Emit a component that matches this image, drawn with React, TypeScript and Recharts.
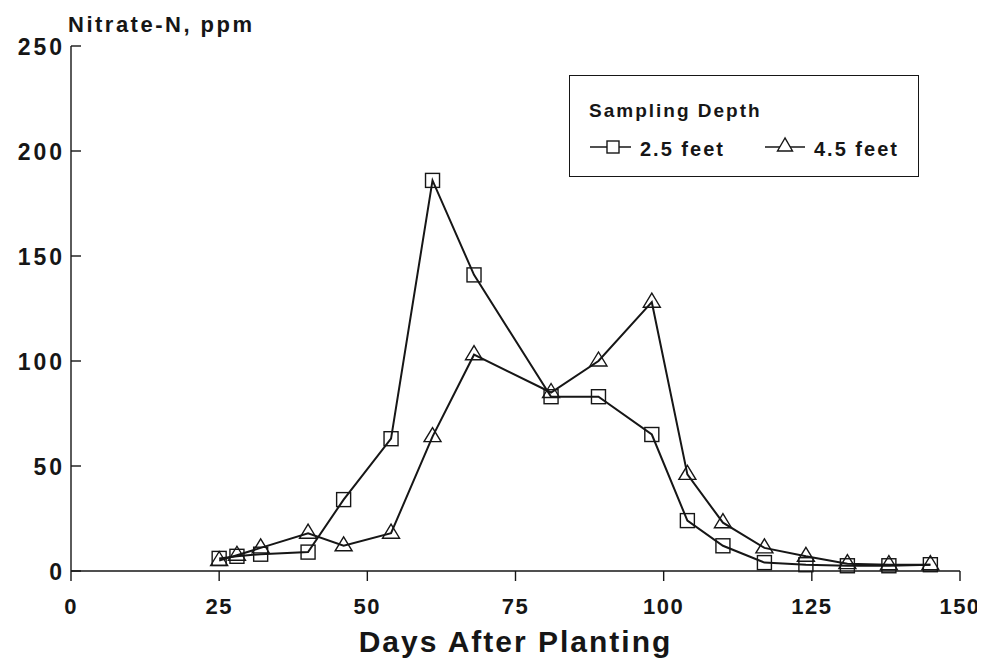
import React from "react";
import { LineChart, Line, XAxis, YAxis, Legend } from "recharts";

// Sampling days after planting
const days = [25, 28, 32, 40, 46, 54, 61, 68, 81, 89, 98, 104, 110, 117, 124, 131, 138, 145];
// Nitrate-N (ppm) at 2.5 feet depth
const depth25 = [6, 7, 8, 9, 34, 63, 186, 141, 83, 83, 65, 24, 12, 4, 3, 2.5, 2.5, 3];
// Nitrate-N (ppm) at 4.5 feet depth
const depth45 = [5, 7.5, 11, 18, 12, 18, 64, 103, 85, 100, 128, 46, 23, 11, 7, 3.5, 3, 3];

const xTicks = [0, 25, 50, 75, 100, 125, 150];
const yTicks = [0, 50, 100, 150, 200, 250];

const data = days.map((d, i) => ({ day: d, d25: depth25[i], d45: depth45[i] }));

const FONT = "'Liberation Sans', Arial, Helvetica, sans-serif";
const INK = "#161616";

const SquareDot = (props: any) => {
  const { cx, cy, index } = props;
  if (cx == null || cy == null) return <g key={`s${index}`} />;
  return (
    <rect
      key={`s${index}`}
      x={cx - 7}
      y={cy - 7}
      width={14}
      height={14}
      fill="none"
      stroke={INK}
      strokeWidth={1.4}
    />
  );
};

const TriangleDot = (props: any) => {
  const { cx, cy, index } = props;
  if (cx == null || cy == null) return <g key={`t${index}`} />;
  return (
    <polygon
      key={`t${index}`}
      points={`${cx},${cy - 9} ${cx - 8.5},${cy + 5} ${cx + 8.5},${cy + 5}`}
      fill="none"
      stroke={INK}
      strokeWidth={1.4}
    />
  );
};

// Left axis ticks point into the plot, labels stay outside
const YTick = (props: any) => {
  const { x, y, payload } = props;
  return (
    <g>
      <line x1={x} y1={y} x2={x + 10} y2={y} stroke={INK} strokeWidth={1.4} />
      <text
        x={x - 6}
        y={y + 9}
        textAnchor="end"
        fontFamily={FONT}
        fontWeight="bold"
        fontSize={23}
        letterSpacing={3}
        fill={INK}
      >
        {payload.value}
      </text>
    </g>
  );
};

const XTick = (props: any) => {
  const { x, y, payload } = props;
  return (
    <text
      x={x}
      y={y + 33}
      textAnchor="middle"
      fontFamily={FONT}
      fontWeight="bold"
      fontSize={22}
      letterSpacing={1.5}
      fill={INK}
    >
      {payload.value}
    </text>
  );
};

const LegendBox = () => (
  <div
    style={{
      width: 350,
      height: 102,
      border: `1.6px solid ${INK}`,
      boxSizing: "border-box",
      fontFamily: FONT,
      fontWeight: "bold",
      color: INK,
      position: "relative",
      background: "#fff",
    }}
  >
    <div style={{ position: "absolute", left: 19, top: 25, fontSize: 19, letterSpacing: 2, lineHeight: "20px" }}>
      Sampling Depth
    </div>
    <svg width={350} height={102} style={{ position: "absolute", left: 0, top: 0 }}>
      <line x1={20} y1={71} x2={61} y2={71} stroke={INK} strokeWidth={1.6} />
      <rect x={37} y={65} width={12} height={12} fill="#fff" stroke={INK} strokeWidth={1.4} />
      <line x1={195} y1={71} x2={235} y2={71} stroke={INK} strokeWidth={1.6} />
      <polygon points="215,62 207.5,75 222.5,75" fill="#fff" stroke={INK} strokeWidth={1.4} />
    </svg>
    <div style={{ position: "absolute", left: 70, top: 63, fontSize: 20, letterSpacing: 2, lineHeight: "20px" }}>
      2.5 feet
    </div>
    <div style={{ position: "absolute", left: 244, top: 63, fontSize: 20, letterSpacing: 2, lineHeight: "20px" }}>
      4.5 feet
    </div>
  </div>
);

export default function App() {
  return (
    <div style={{ width: 977, height: 656, background: "#fff" }}>
      <LineChart
        width={977}
        height={656}
        data={data}
        margin={{ top: 38, right: 25, bottom: 0, left: 0 }}
      >
        <XAxis
          dataKey="day"
          type="number"
          domain={[0, 150]}
          ticks={xTicks}
          interval={0}
          tickSize={10}
          tickMargin={0}
          tick={<XTick />}
          axisLine={{ stroke: INK, strokeWidth: 1.4 }}
          tickLine={{ stroke: INK, strokeWidth: 1.4 }}
          height={93}
          label={{
            content: (p: any) => {
              const vb = p.viewBox;
              return (
                <text
                  x={vb.x + vb.width / 2}
                  y={vb.y + 81}
                  textAnchor="middle"
                  fontFamily={FONT}
                  fontWeight="bold"
                  fontSize={30}
                  letterSpacing={2}
                  fill={INK}
                >
                  Days After Planting
                </text>
              );
            },
          }}
        />
        <XAxis
          xAxisId="top"
          orientation="top"
          dataKey="day"
          type="number"
          domain={[0, 150]}
          tick={false}
          tickLine={false}
          height={0}
          axisLine={{ stroke: INK, strokeWidth: 1.4 }}
        />
        <YAxis
          type="number"
          domain={[0, 250]}
          ticks={yTicks}
          interval={0}
          width={63}
          tickSize={0}
          tickMargin={0}
          tickLine={false}
          tick={<YTick />}
          axisLine={{ stroke: INK, strokeWidth: 1.4 }}
          label={{
            content: (p: any) => {
              const vb = p.viewBox;
              return (
                <text
                  x={vb.x + vb.width - 3}
                  y={vb.y - 14}
                  fontFamily={FONT}
                  fontWeight="bold"
                  fontSize={22}
                  letterSpacing={2.5}
                  fill={INK}
                >
                  Nitrate-N, ppm
                </text>
              );
            },
          }}
        />
        <YAxis
          yAxisId="right"
          orientation="right"
          type="number"
          domain={[0, 250]}
          width={0}
          tick={false}
          tickLine={false}
          axisLine={{ stroke: INK, strokeWidth: 1.4 }}
        />
        <Legend
          layout="horizontal"
          verticalAlign="middle"
          align="center"
          content={<LegendBox />}
          wrapperStyle={{ position: "absolute", left: 561, top: 67, width: 350, height: 102 }}
        />
        <Line
          dataKey="d25"
          name="2.5 feet"
          type="linear"
          stroke={INK}
          strokeWidth={2}
          dot={SquareDot}
          activeDot={false}
          isAnimationActive={false}
        />
        <Line
          dataKey="d45"
          name="4.5 feet"
          type="linear"
          stroke={INK}
          strokeWidth={2}
          dot={TriangleDot}
          activeDot={false}
          isAnimationActive={false}
        />
      </LineChart>
    </div>
  );
}
